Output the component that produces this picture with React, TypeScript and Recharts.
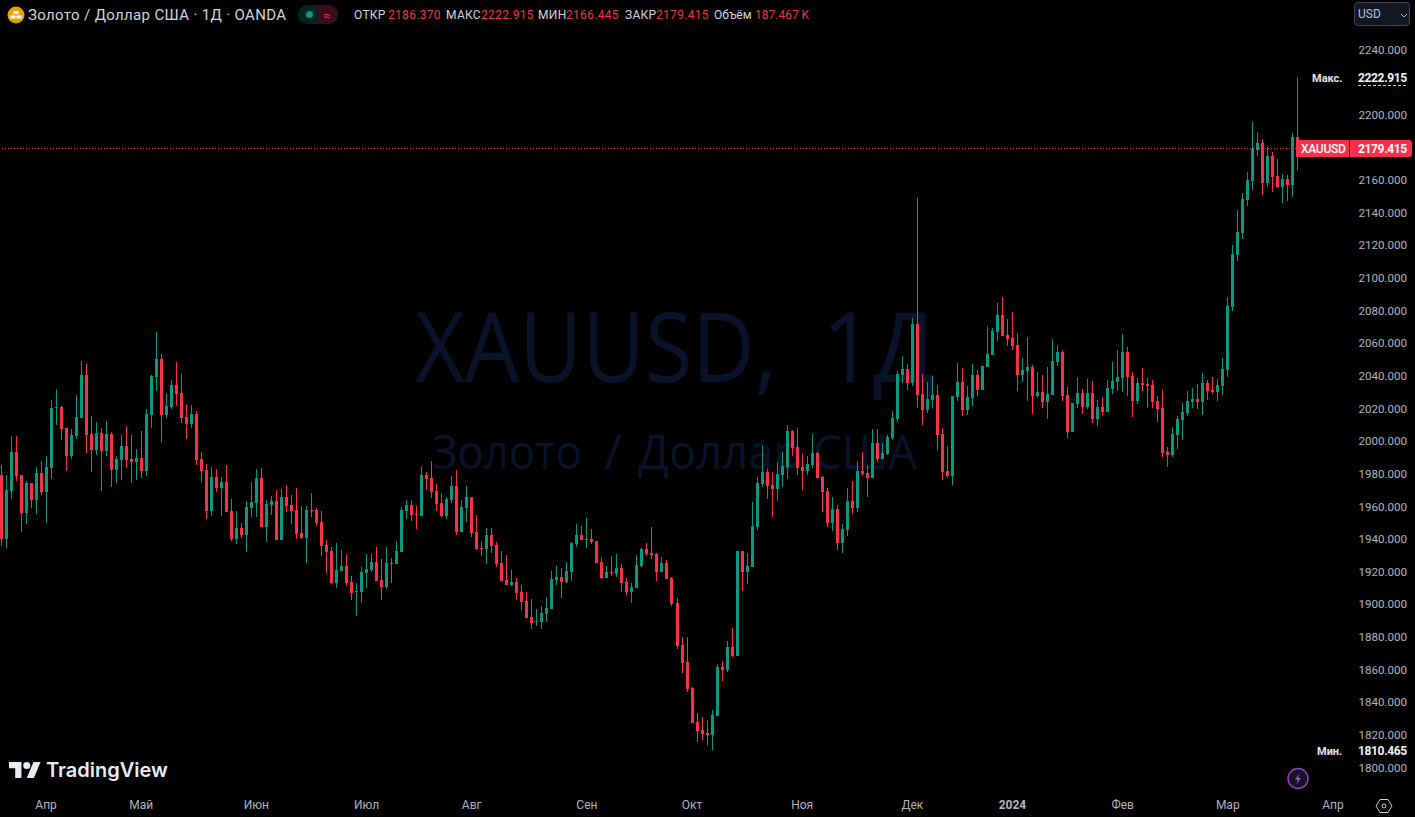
import { Bar, ComposedChart, ReferenceLine, XAxis, YAxis } from "recharts";

const opens = [
  1979.2,1940.0,1969.4,1993.3,1979.2,1956.0,1974.3,1963.9,1980.5,1968.8,
  1983.5,2020.3,2020.9,2008.0,1990.9,2003.1,2014.2,2040.5,2004.4,1994.6,
  2005.0,1994.0,2004.4,1982.3,1988.4,1997.0,1989.0,1987.2,1989.7,1981.7,
  2016.0,2039.3,2050.3,2016.0,2020.9,2034.4,2029.5,2014.8,2010.5,2016.6,
  1989.0,1982.3,1957.2,1978.0,1971.3,1975.0,1957.2,1940.0,1946.8,1942.5,
  1959.0,1962.1,1977.4,1947.4,1960.9,1963.3,1939.4,1965.8,1960.9,1957.8,
  1943.7,1940.6,1957.8,1957.8,1950.4,1936.4,1932.7,1913.1,1920.4,1923.5,
  1913.7,1907.6,1907.6,1919.2,1921.0,1925.9,1914.9,1910.6,1925.3,1924.7,
  1932.1,1957.2,1960.9,1955.4,1954.1,1979.3,1977.4,1969.4,1962.1,1954.1,
  1963.9,1972.5,1944.3,1959.0,1965.8,1944.3,1934.5,1933.9,1942.5,1936.4,
  1925.3,1914.9,1911.8,1913.7,1907.6,1902.0,1892.2,1889.2,1889.2,1894.1,
  1897.1,1914.9,1916.7,1913.7,1919.8,1937.0,1942.5,1939.4,1940.0,1938.8,
  1925.9,1916.1,1919.8,1918.6,1922.3,1913.7,1907.6,1910.0,1923.5,1933.9,
  1931.5,1930.8,1919.8,1925.3,1916.1,1900.8,1875.1,1864.7,1848.7,1827.9,
  1823.0,1821.2,1819.9,1831.6,1861.6,1859.8,1873.9,1868.3,1932.7,1919.8,
  1922.9,1947.4,1973.7,1981.1,1973.1,1970.7,1979.3,1984.2,2006.2,1996.4,
  1984.2,1981.7,1985.4,1992.7,1978.0,1969.4,1949.8,1958.4,1937.6,1945.5,
  1963.3,1959.0,1981.7,1980.5,1977.4,1998.9,1989.1,1992.1,2001.9,2013.6,
  2040.5,2044.2,2035.6,2071.8,2028.9,2019.1,2025.2,2028.3,2004.4,1981.7,
  1978.6,2027.0,2036.2,2019.1,2026.4,2040.5,2031.3,2045.4,2052.8,2066.9,
  2077.3,2065.0,2063.2,2058.9,2040.5,2043.0,2045.4,2027.7,2030.1,2024.0,
  2028.3,2048.5,2054.6,2028.3,2005.6,2022.8,2029.5,2020.9,2029.5,2013.6,
  2020.9,2017.9,2032.0,2036.2,2038.7,2054.6,2039.9,2024.6,2035.6,2035.0,
  2034.4,2024.6,2020.3,1993.3,1991.5,2003.8,2013.0,2017.2,2024.0,2025.8,
  2024.0,2035.6,2031.3,2030.1,2033.8,2043.6,2082.2,2114.1,2127.5,2147.8,
  2159.4,2178.4,2182.7,2158.2,2174.7,2162.5,2155.7,2160.6,2157.0,2186.37,
];

const highs = [
  1985.4,1979.2,2003.1,2003.1,1979.2,1975.6,1974.3,1984.2,1987.8,1990.9,
  2025.2,2031.9,2021.5,2008.0,2007.4,2028.3,2049.1,2047.3,2015.4,2011.7,
  2008.0,2012.3,2005.6,1990.9,2003.8,2009.3,2003.8,1995.2,2006.2,2019.7,
  2040.5,2066.9,2053.4,2029.5,2037.5,2048.5,2041.1,2022.8,2022.1,2018.5,
  1993.3,1986.0,1984.2,1982.9,1978.0,1985.4,1964.5,1957.2,1949.8,1963.3,
  1975.0,1982.9,1983.5,1963.9,1966.4,1970.1,1970.7,1973.1,1967.0,1971.3,
  1960.3,1960.3,1968.2,1959.0,1957.2,1939.4,1935.1,1937.6,1933.3,1930.8,
  1917.4,1913.1,1922.9,1930.8,1930.8,1935.1,1927.8,1935.1,1928.4,1938.8,
  1959.6,1963.9,1963.9,1960.3,1984.8,1981.1,1987.8,1973.7,1968.2,1965.8,
  1978.6,1982.3,1963.9,1972.5,1965.8,1954.7,1938.8,1946.8,1946.8,1938.2,
  1932.7,1930.2,1921.0,1916.1,1911.8,1907.6,1903.3,1897.1,1899.0,1904.5,
  1920.4,1923.5,1922.3,1925.9,1938.2,1949.2,1948.0,1952.9,1946.2,1938.8,
  1929.0,1923.5,1929.6,1930.8,1924.7,1916.1,1913.1,1930.2,1934.5,1937.6,
  1947.4,1931.5,1929.0,1927.2,1916.7,1903.9,1880.0,1880.0,1849.3,1833.4,
  1831.0,1829.1,1835.2,1863.4,1865.3,1877.5,1885.5,1932.7,1932.7,1931.5,
  1962.7,1978.0,1997.0,1982.9,1981.1,1987.2,1993.3,2009.9,2006.8,2008.1,
  1992.1,1990.9,2004.4,1993.3,1978.6,1971.3,1965.8,1960.9,1949.2,1971.3,
  1975.6,1987.8,1993.3,1985.4,2007.4,2007.4,1998.9,2003.8,2018.5,2043.0,
  2052.2,2047.3,2075.5,2149.0,2041.1,2036.2,2039.9,2034.4,2008.0,1997.0,
  2027.7,2047.9,2044.8,2033.8,2047.3,2043.6,2046.0,2070.6,2069.3,2084.7,
  2088.3,2074.9,2079.1,2066.3,2051.0,2063.8,2046.7,2042.4,2040.5,2045.4,
  2062.6,2058.9,2055.9,2033.2,2023.4,2039.3,2032.0,2038.1,2036.9,2025.2,
  2027.1,2037.5,2048.5,2055.9,2065.7,2057.7,2042.4,2038.7,2044.8,2038.7,
  2037.5,2027.7,2031.3,1996.4,2008.7,2015.4,2023.4,2030.7,2032.6,2035.0,
  2041.8,2037.5,2039.3,2038.1,2050.9,2088.3,2120.2,2141.6,2152.1,2164.9,
  2195.6,2189.4,2185.2,2180.2,2177.2,2172.9,2163.7,2163.1,2188.8,2222.915,
];

const lows = [
  1935.7,1934.5,1964.5,1975.6,1944.3,1949.2,1959.0,1955.3,1967.0,1949.8,
  1976.8,2009.9,2000.7,1981.7,1989.0,2001.3,2014.2,1992.7,1981.1,1991.5,
  1969.4,1990.9,1971.9,1974.3,1976.2,1983.5,1974.3,1976.2,1977.4,1978.6,
  2008.0,2030.7,1999.5,2014.2,2019.7,2021.5,2011.1,2001.3,2008.0,1985.4,
  1975.0,1952.3,1954.1,1968.8,1954.1,1956.6,1938.8,1937.0,1940.6,1932.1,
  1953.5,1953.5,1947.4,1938.2,1954.7,1939.4,1939.4,1956.6,1949.2,1940.0,
  1940.0,1925.3,1953.5,1948.0,1929.6,1919.2,1912.5,1910.0,1920.4,1911.2,
  1902.7,1892.9,1900.8,1910.0,1919.8,1914.3,1902.7,1909.4,1913.1,1924.7,
  1932.1,1952.3,1951.1,1946.2,1954.1,1970.1,1965.2,1957.2,1953.5,1952.3,
  1962.1,1942.5,1944.3,1950.4,1941.3,1933.3,1929.6,1924.7,1931.5,1922.9,
  1914.3,1911.8,1911.2,1902.7,1896.5,1891.6,1884.9,1886.7,1884.9,1889.2,
  1897.1,1911.8,1903.9,1913.1,1914.3,1935.1,1939.4,1934.5,1937.0,1925.3,
  1915.5,1916.1,1917.4,1916.7,1907.6,1905.7,1900.8,1910.0,1922.9,1929.6,
  1927.8,1914.3,1919.8,1915.5,1899.0,1872.6,1857.9,1846.3,1827.3,1815.6,
  1816.9,1813.2,1810.465,1831.6,1853.0,1858.5,1867.7,1868.3,1908.2,1912.5,
  1922.9,1945.5,1971.9,1964.5,1953.5,1963.3,1971.9,1976.8,1990.9,1979.3,
  1970.1,1979.3,1983.5,1977.4,1956.6,1947.4,1944.9,1933.3,1931.5,1941.9,
  1955.4,1956.6,1978.6,1965.8,1977.4,1987.2,1989.1,1991.5,2000.7,2011.7,
  2035.6,2031.3,2033.8,2020.3,2009.9,2017.2,2020.3,1994.6,1976.2,1977.4,
  1973.1,2024.6,2015.4,2016.0,2021.5,2027.7,2031.3,2045.4,2052.8,2061.4,
  2064.4,2058.3,2055.9,2030.7,2036.2,2024.6,2016.6,2026.4,2020.3,2013.6,
  2028.3,2046.0,2024.6,2001.9,2005.6,2020.3,2016.6,2019.7,2011.1,2009.3,
  2016.0,2017.9,2028.9,2030.7,2030.1,2027.7,2014.8,2022.8,2030.7,2020.3,
  2020.3,2011.7,1990.3,1984.2,1990.3,1995.2,2000.7,2015.4,2020.3,2019.7,
  2016.0,2025.2,2028.9,2024.6,2028.3,2039.3,2079.7,2110.4,2123.9,2144.1,
  2153.9,2174.7,2150.8,2155.7,2152.7,2155.1,2145.9,2147.2,2149.6,2166.445,
];

const closes = [
  1940.0,1970.1,1993.3,1978.6,1956.0,1974.3,1963.9,1980.5,1968.8,1984.2,
  2020.3,2020.9,2007.4,1990.9,2003.8,2014.8,2040.5,2003.8,1994.6,2005.0,
  1994.0,2004.4,1982.3,1989.0,1997.0,1988.4,1987.2,1989.7,1981.7,2016.6,
  2039.9,2050.3,2016.0,2021.5,2034.4,2028.9,2014.2,2010.5,2016.6,1988.4,
  1981.7,1957.2,1978.0,1971.3,1975.0,1956.6,1940.0,1946.8,1942.5,1959.6,
  1962.7,1977.4,1947.4,1961.5,1963.3,1939.4,1965.8,1960.3,1957.2,1943.1,
  1940.6,1957.8,1957.2,1949.8,1935.7,1932.1,1913.1,1921.0,1923.5,1913.1,
  1906.9,1908.2,1919.8,1921.7,1925.9,1914.3,1910.6,1925.3,1924.7,1932.7,
  1957.8,1960.9,1954.7,1954.7,1979.3,1976.8,1968.8,1961.5,1954.1,1964.5,
  1972.5,1944.3,1959.6,1965.8,1943.7,1933.9,1933.9,1942.5,1935.7,1924.7,
  1914.3,1911.8,1913.7,1906.9,1901.4,1891.6,1888.6,1889.8,1894.7,1897.8,
  1915.5,1916.7,1913.7,1920.4,1937.6,1942.5,1939.4,1940.0,1938.2,1925.3,
  1916.1,1919.8,1919.2,1922.3,1913.1,1907.6,1910.6,1924.1,1933.9,1930.8,
  1930.2,1919.8,1925.3,1915.5,1900.2,1874.5,1864.0,1848.1,1827.3,1822.4,
  1820.5,1819.9,1832.2,1861.6,1859.8,1873.9,1868.3,1932.7,1919.8,1923.5,
  1948.0,1974.3,1981.1,1972.5,1970.7,1979.9,1984.8,2006.2,1995.8,1983.5,
  1981.7,1986.0,1992.7,1977.4,1968.8,1949.8,1958.4,1937.6,1946.2,1963.3,
  1959.0,1981.7,1979.9,1977.4,1998.9,1989.1,1992.7,2002.5,2014.2,2041.1,
  2044.2,2035.6,2071.8,2028.3,2019.1,2025.8,2028.3,2003.8,1981.1,1978.6,
  2027.7,2036.2,2019.1,2027.0,2040.5,2031.3,2046.0,2053.4,2067.5,2077.3,
  2064.4,2062.6,2058.3,2040.5,2043.6,2045.4,2027.7,2030.1,2024.0,2028.9,
  2049.1,2054.6,2027.7,2005.6,2023.4,2029.5,2020.9,2029.5,2013.6,2020.9,
  2017.9,2032.6,2036.9,2039.3,2054.6,2039.3,2024.6,2035.6,2034.4,2033.8,
  2024.0,2019.7,1992.7,1991.5,2004.4,2013.6,2017.9,2024.6,2025.8,2024.0,
  2035.6,2030.7,2030.1,2034.4,2044.2,2082.8,2114.7,2128.2,2148.4,2160.0,
  2179.0,2182.7,2158.2,2174.7,2161.9,2155.7,2160.6,2157.0,2186.4,2179.415,
];

// months on the time axis, with the bar each one starts at
const monthLabels = ["Апр","Май","Июн","Июл","Авг","Сен","Окт","Ноя","Дек","2024","Фев","Мар","Апр"];
const monthBars = [9, 28, 51, 73, 94, 117, 138, 160, 182, 202, 224, 245, 266];

const priceTicks = [
  1800,1820,1840,1860,1880,1900,1920,1940,1960,1980,2000,2020,2040,2060,
  2080,2100,2120,2140,2160,2200,2240,
];

const lastClose = 2179.415;
const emptyBarsRight = 10; // future dates on the right of the last candle

const UP = "#089981";
const DOWN = "#f7314a";
const AXIS_TEXT = "#b2b5be";
const FONT = "Roboto, sans-serif";

const rows = [...opens, ...Array(emptyBarsRight).fill(null)].map((o, i) =>
  o === null
    ? { i, range: null }
    : { i, open: o, high: highs[i], low: lows[i], close: closes[i], range: [lows[i], highs[i]] }
);

function Candle(props: any) {
  const { x, y, width, height, payload } = props;
  if (!payload || payload.range === null || !height) return null;
  const perUnit = height / (payload.high - payload.low);
  const cx = Math.floor(x + width / 2);
  const yOf = (price: number) => Math.round(y + (payload.high - price) * perUnit);
  const top = yOf(Math.max(payload.open, payload.close));
  const bottom = yOf(Math.min(payload.open, payload.close));
  const color = payload.close < payload.open ? DOWN : UP;
  return (
    <g shapeRendering="crispEdges">
      <rect x={cx} y={yOf(payload.high)} width={1} height={Math.max(1, yOf(payload.low) - yOf(payload.high))} fill={color} />
      <rect x={cx - 1} y={top} width={3} height={Math.max(1, bottom - top)} fill={color} />
    </g>
  );
}

function MonthTick(props: any) {
  const { x, y, payload } = props;
  const label = monthLabels[monthBars.indexOf(payload.value)];
  return (
    <text x={x} y={y + 4} textAnchor="middle" dominantBaseline="central" fontFamily={FONT} fontSize={12}
      fontWeight={label === "2024" ? 700 : 400} fill={AXIS_TEXT}>
      {label}
    </text>
  );
}

function Abs({ x, y, color, size = 12, weight = 400, spacing = 0, children }: any) {
  return (
    <div style={{ position: "absolute", left: x, top: y, transform: "translateY(-50%)", color, fontSize: size, fontWeight: weight, letterSpacing: spacing, whiteSpace: "nowrap", lineHeight: 1 }}>
      {children}
    </div>
  );
}

function Legend() {
  const label = "#d1d4dc";
  return (
    <>
      <svg width={18} height={18} style={{ position: "absolute", left: 7, top: 6 }}>
        <circle cx={9} cy={9} r={8.5} fill="#e5a00d" />
        <rect x={6.5} y={5} width={5} height={3} fill="#fff" />
        <rect x={3.5} y={9.5} width={5} height={3} fill="#fff" />
        <rect x={9.5} y={9.5} width={5} height={3} fill="#fff" />
      </svg>
      <Abs x={28} y={15} color={label} size={15} spacing={0.35}>Золото / Доллар США · 1Д · OANDA</Abs>
      <div style={{ position: "absolute", left: 298, top: 5, width: 20, height: 19, background: "#06251f", borderRadius: "9px 0 0 9px" }} />
      <div style={{ position: "absolute", left: 318, top: 5, width: 20, height: 19, background: "#3a0c1c", borderRadius: "0 9px 9px 0" }} />
      <div style={{ position: "absolute", left: 306, top: 11, width: 7, height: 7, background: UP, borderRadius: "50%" }} />
      <Abs x={323} y={15} color={DOWN} size={13}>≈</Abs>
      <Abs x={354} y={15} color={label} spacing={0.3}>ОТКР</Abs>
      <Abs x={388} y={15} color={DOWN} spacing={0.3}>2186.370</Abs>
      <Abs x={446} y={15} color={label} spacing={0.3}>МАКС</Abs>
      <Abs x={481} y={15} color={DOWN} spacing={0.3}>2222.915</Abs>
      <Abs x={538} y={15} color={label} spacing={0.3}>МИН</Abs>
      <Abs x={566} y={15} color={DOWN} spacing={0.3}>2166.445</Abs>
      <Abs x={625} y={15} color={label} spacing={0.3}>ЗАКР</Abs>
      <Abs x={656} y={15} color={DOWN} spacing={0.3}>2179.415</Abs>
      <Abs x={714} y={15} color={label}>Объём</Abs>
      <Abs x={755} y={15} color={DOWN}>187.467 K</Abs>
    </>
  );
}

function PriceScaleExtras() {
  return (
    <>
      <div style={{ position: "absolute", left: 1354, top: 2, width: 56, height: 24, background: "#131722", border: "1px solid #434651", borderRadius: 4, boxSizing: "border-box" }} />
      <Abs x={1358} y={14} color="#a9c4f5" size={12}>USD</Abs>
      <svg width={8} height={5} style={{ position: "absolute", left: 1400, top: 13 }}>
        <path d="M1 1l3 3 3-3" stroke="#b2b5be" fill="none" />
      </svg>
      <Abs x={1312} y={78} color="#e6e6e6" size={11} weight={700}>Макс.</Abs>
      <Abs x={1358} y={78} color="#f0f3fa" size={12} weight={700} spacing={-0.35}>2222.915</Abs>
      <div style={{ position: "absolute", left: 1358, top: 85, width: 48, borderTop: "1px dashed #d1d4dc" }} />
      <Abs x={1317} y={751} color="#e6e6e6" size={11} weight={700}>Мин.</Abs>
      <Abs x={1358} y={751} color="#f0f3fa" size={12} weight={700} spacing={-0.35}>1810.465</Abs>
      <div style={{ position: "absolute", left: 1296, top: 140, width: 53, height: 17, background: DOWN }} />
      <div style={{ position: "absolute", left: 1350, top: 140, width: 62, height: 17, background: DOWN, borderRadius: "0 3px 3px 0" }} />
      <Abs x={1301} y={149} color="#fff" size={12} weight={500} spacing={-0.3}>XAUUSD</Abs>
      <Abs x={1358} y={149} color="#fff" size={12} weight={700} spacing={-0.35}>2179.415</Abs>
      <svg width={24} height={24} style={{ position: "absolute", left: 1286, top: 767 }}>
        <circle cx={12} cy={11.5} r={10} fill="#131722" stroke="#9c3cc4" strokeWidth={1.5} />
        <path d="M13.5 6.5L9 12.5h3l-1.5 4.5 4.5-6h-3z" fill="#b05ad0" />
      </svg>
      <svg width={18} height={18} style={{ position: "absolute", left: 1375, top: 797 }}>
        <path d="M5 2.5h8l4 6.5-4 6.5H5L1 9z" fill="none" stroke="#c8cad0" />
        <circle cx={9} cy={9} r={2} fill="none" stroke="#c8cad0" />
      </svg>
    </>
  );
}

function Branding() {
  return (
    <>
      <svg width={32} height={16} viewBox="0 4 36 18" style={{ position: "absolute", left: 9, top: 762 }}>
        <path d="M14 22H7V11H0V4h14v18zM28 22h-8l7.5-18h8L28 22z" fill="#e9ecf2" />
        <circle cx={20} cy={8} r={4} fill="#e9ecf2" />
      </svg>
      <Abs x={46} y={770} color="#e9ecf2" size={20} weight={600}>
        <span style={{ fontFamily: "Inter, sans-serif" }}>TradingView</span>
      </Abs>
    </>
  );
}

function Watermark() {
  const big = { fontFamily: "'Open Sans', sans-serif", fontSize: 97, fill: "#0a1229", lengthAdjust: "spacingAndGlyphs" };
  const small = { ...big, fontSize: 48 };
  return (
    <svg width={1415} height={817} style={{ position: "absolute", left: 0, top: 0 }}>
      <text x={415} y={382} textLength={362} {...big}>XAUUSD,</text>
      <text x={822} y={382} textLength={113} {...big}>1Д</text>
      <text x={432} y={469} textLength={150} {...small}>Золото</text>
      <text x={604} y={469} textLength={18} {...small}>/</text>
      <text x={638} y={469} textLength={279} {...small}>Доллар США</text>
    </svg>
  );
}

export default function App() {
  return (
    <div style={{ position: "absolute", left: 0, top: 0, width: 1415, height: 817, background: "#000", overflow: "hidden", fontFamily: FONT }}>
      <Watermark />
      <div style={{ position: "absolute", left: 0, top: 0 }}>
        <ComposedChart
          width={1415}
          height={817}
          data={rows}
          margin={{ left: -1.445, right: 0, top: 0, bottom: 0 }}
        >
          <XAxis
            dataKey="i"
            height={24}
            ticks={monthBars}
            interval={0}
            axisLine={false}
            tickLine={false}
            tick={<MonthTick />}
          />
          <YAxis
            orientation="right"
            width={64.555}
            type="number"
            scale="linear"
            domain={[1784.38, 2270.33]}
            allowDataOverflow
            ticks={priceTicks}
            interval={0}
            axisLine={false}
            tickLine={false}
            tickSize={0}
            tickMargin={8}
            tick={{ fill: AXIS_TEXT, fontSize: 11.6, fontFamily: FONT }}
            tickFormatter={(v: number) => v.toFixed(3)}
          />
          <ReferenceLine y={lastClose} stroke={DOWN} strokeDasharray="1 2" shapeRendering="crispEdges" />
          <Bar dataKey="range" isAnimationActive={false} shape={<Candle />} />
        </ComposedChart>
      </div>
      <Legend />
      <PriceScaleExtras />
      <Branding />
    </div>
  );
}
